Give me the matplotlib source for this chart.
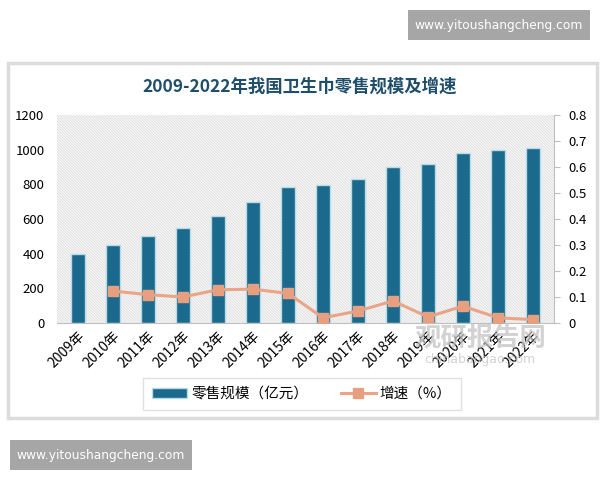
import matplotlib
matplotlib.use("Agg")
import matplotlib.pyplot as plt
from matplotlib.patches import Rectangle
import numpy as np

plt.rcParams['font.family'] = ['Noto Sans CJK SC', 'DejaVu Sans']
plt.rcParams['hatch.linewidth'] = 0.6

years = ['2009年', '2010年', '2011年', '2012年', '2013年', '2014年', '2015年',
         '2016年', '2017年', '2018年', '2019年', '2020年', '2021年', '2022年']
retail = [400, 448, 500, 547, 617, 696, 782, 795, 830, 900, 918, 980, 1000, 1007]
growth_years = years[1:]
growth = [0.123, 0.109, 0.100, 0.128, 0.130, 0.114, 0.020, 0.046, 0.085, 0.023, 0.065, 0.020, 0.013]

bar_label = '零售规模（亿元）'
line_label = '增速（%）'
title = '2009-2022年我国卫生巾零售规模及增速'

fig = plt.figure(figsize=(6, 4.8), dpi=100)
fig.patch.set_facecolor('white')

# outer frame
frame = Rectangle((8/600, 1-418/480), (597-8)/600, (418-63)/480, transform=fig.transFigure,
                  facecolor='none', edgecolor='#dcdcdc', linewidth=2.5, zorder=-1)
fig.patches.append(frame)

# watermark boxes
for (x0, y0, x1, y1) in [(408, 10, 590, 40), (10, 440, 192, 470)]:
    fig.patches.append(Rectangle((x0/600, 1-y1/480), (x1-x0)/600, (y1-y0)/480,
                                 transform=fig.transFigure, facecolor='#a6a6a6',
                                 edgecolor='none', zorder=-1))
    fig.text((x0+x1)/2/600, 1-(y0+y1)/2/480, 'www.yitoushangcheng.com', color='white',
             fontsize=8.8, ha='center', va='center', family=['DejaVu Sans'])

ax = fig.add_axes([57/600, 1-323/480, (554-57)/600, (323-115)/480])
ax.set_facecolor('none')
x = np.arange(len(years))

# hatched background
bg = Rectangle((0, 0), 1, 1, transform=ax.transAxes, facecolor='#f8f8f8',
               edgecolor='#dedede', hatch='\\' * 12, linewidth=0, zorder=0)
ax.add_patch(bg)

bars = ax.bar(x, retail, width=0.41, color='#1b6a8d', edgecolor='#b9dbe6',
              linewidth=1.0, zorder=2, label=bar_label)
ax.set_ylim(0, 1200)
ax.set_yticks(np.arange(0, 1201, 200))
ax.set_xlim(-0.6, len(years) - 0.4)
ax.set_xticks(x)
ax.set_xticklabels(years, rotation=45, ha='right', rotation_mode='anchor', fontsize=10)
ax.tick_params(axis='x', length=0, pad=4)
ax.tick_params(axis='y', length=0, labelsize=9.5, pad=9)
for s in ['top', 'right', 'left']:
    ax.spines[s].set_visible(False)
ax.spines['bottom'].set_color('#bfbfbf')

ax2 = ax.twinx()
gx = x[1:]
line, = ax2.plot(gx, growth, color='#eba486', linewidth=2.2, marker='s', markersize=6.5,
                 markerfacecolor='#e89f80', markeredgecolor='#e89f80', zorder=3,
                 label=line_label)
ax2.set_ylim(0, 0.8)
ax2.set_yticks(np.arange(0, 0.81, 0.1))
ax2.set_yticklabels(['0'] + ['%.1f' % v for v in np.arange(0.1, 0.81, 0.1)])
ax2.tick_params(axis='y', length=4, color='#bfbfbf', labelsize=9.5, pad=6)
for s in ['top', 'left', 'bottom']:
    ax2.spines[s].set_visible(False)
ax2.spines['right'].set_color('#bfbfbf')

fig.text(300/600, 1-87/480, title, fontsize=12.5, fontweight='bold', color='#1f4e6b',
         ha='center', va='center')

# watermark logo text
fig.text(480/600, 1-339/480, '观研报告网', fontsize=19, fontweight='bold', color='#c4c4c4',
         alpha=0.75, ha='center', va='center', zorder=5)
fig.text(480/600, 1-359/480, 'chinabaogao.com', fontsize=9, color='#c4c4c4',
         alpha=0.75, ha='center', va='center', zorder=5, family=['DejaVu Sans'])

leg = fig.legend([bars, line], [bar_label, line_label], loc='center',
                 bbox_to_anchor=(302/600, 1-394/480), ncol=2, frameon=True,
                 fontsize=10.5, handlelength=2.4, handletextpad=0.3,
                 columnspacing=2.2, borderpad=0.35)
leg.get_frame().set_edgecolor('#d9d9d9')
leg.get_frame().set_boxstyle('square')

fig.savefig('out.png', dpi=100)
